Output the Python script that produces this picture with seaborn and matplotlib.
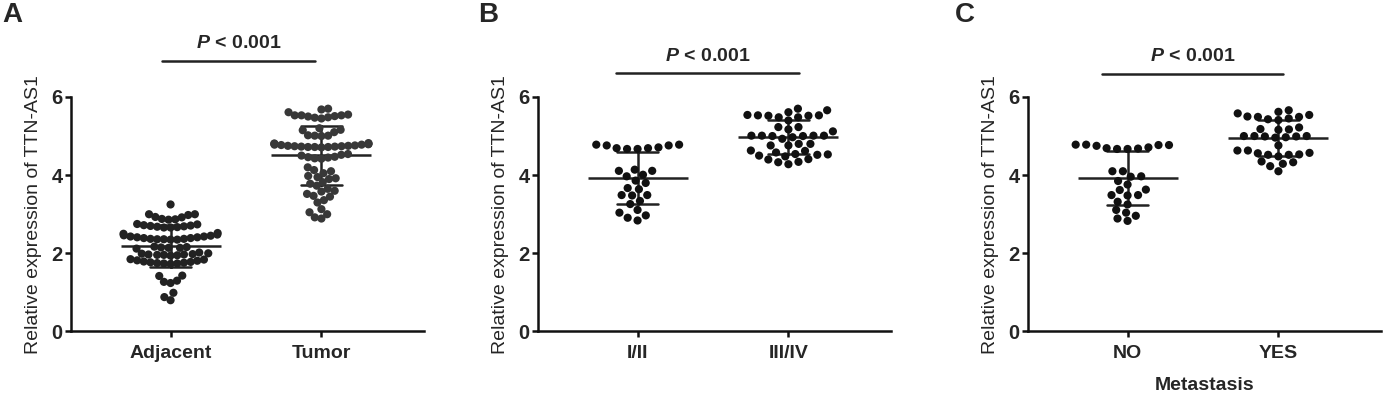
import numpy as np
import pandas as pd
import matplotlib
matplotlib.use('Agg')
import matplotlib.pyplot as plt
import seaborn as sns

# values
adjacent = [3.25,
            3.00, 2.98, 2.93, 2.88, 2.86, 2.87, 2.92, 3.00,
            2.75, 2.72, 2.70, 2.68, 2.66, 2.66, 2.67, 2.69, 2.71, 2.74,
            2.52, 2.48, 2.45, 2.43, 2.41, 2.39, 2.37, 2.36, 2.35, 2.35, 2.36, 2.37, 2.39, 2.41, 2.43, 2.46, 2.50,
            2.17, 2.14, 2.16, 2.15, 2.14, 2.12,
            2.00, 1.97, 1.95, 1.96, 1.98, 2.02, 1.99, 1.96, 1.94, 1.97,
            1.85, 1.82, 1.79, 1.77, 1.75, 1.74, 1.73, 1.74, 1.76, 1.78, 1.81, 1.84,
            1.43, 1.42,
            1.27, 1.24, 1.30,
            0.99, 0.88, 0.80]
tumor = [5.70, 5.68, 5.61, 5.55, 5.53, 5.53, 5.51, 5.50, 5.48, 5.47, 5.45, 5.53,
         5.20, 5.16, 5.15, 5.10, 5.02, 5.01, 5.01, 5.00,
         4.82, 4.80, 4.79, 4.78, 4.76, 4.75, 4.74, 4.73, 4.72, 4.72, 4.71, 4.72, 4.73, 4.74, 4.75, 4.77, 4.78, 4.80, 4.81,
         4.54, 4.50, 4.46, 4.45, 4.42, 4.43, 4.47, 4.52,
         4.20, 4.13, 4.10, 4.05, 3.98, 3.95, 3.92, 3.90,
         3.82, 3.78, 3.73, 3.65, 3.60, 3.58,
         3.52, 3.47, 3.45, 3.36, 3.30,
         3.13, 3.05, 3.00, 2.92, 2.89]
stage_1_2 = [4.78, 4.76, 4.71, 4.69, 4.67, 4.67, 4.69, 4.76, 4.78,
             4.11, 4.01, 3.97, 4.11, 4.14,
             3.80, 3.67, 3.64, 3.86,
             3.49, 3.34, 3.26, 3.49, 3.48,
             3.11, 2.97, 2.84, 2.91, 3.04]
stage_3_4 = [5.70, 5.61, 5.48, 5.54, 5.53, 5.52, 5.53, 5.52, 5.48, 5.66, 5.40,
             5.23, 5.23, 5.12, 5.17,
             5.01, 5.00, 5.01, 4.93, 4.97, 5.01, 5.00, 5.01,
             4.80, 4.80, 4.76, 4.76,
             4.54, 4.50, 4.58, 4.63, 4.52, 4.62, 4.48, 4.53,
             4.41, 4.34, 4.28, 4.33, 4.40]
meta_no = [4.78, 4.77, 4.71, 4.68, 4.67, 4.67, 4.69, 4.75, 4.77, 4.78,
           4.10, 3.96, 3.97, 3.85, 4.10,
           3.76, 3.62, 3.63,
           3.49, 3.32, 3.25, 3.49, 3.48,
           3.11, 2.96, 2.83, 2.89, 3.04]
meta_yes = [5.62, 5.54, 5.49, 5.43, 5.66, 5.58, 5.41, 5.45, 5.49, 5.50,
            5.22, 5.16, 5.17, 5.18,
            4.99, 5.00, 4.97, 5.00, 4.96, 5.00, 4.99,
            4.63, 4.56, 4.52, 4.76, 4.52, 4.53, 4.57, 4.63,
            4.35, 4.29, 4.48, 4.23, 4.33, 4.10]

panel_letters = ['A', 'B', 'C']
group_names = [['Adjacent', 'Tumor'], ['I/II', 'III/IV'], ['NO', 'YES']]
group_values = [[adjacent, tumor], [stage_1_2, stage_3_4], [meta_no, meta_yes]]
x_titles = ['', '', 'Metastasis']
y_title = 'Relative expression of TTN-AS1'
y_ticks = [0, 2, 4, 6]

# layout of the significance bars: (x start, x end, bar y, text y)
sig_bars = [(-0.06, 0.96, 6.93, 7.37),
            (-0.14, 1.07, 6.62, 7.03),
            (-0.17, 1.03, 6.59, 7.03)]

sns.set_style('ticks')
plt.rcParams['font.family'] = ['Liberation Sans', 'DejaVu Sans']
plt.rcParams['mathtext.fontset'] = 'custom'
plt.rcParams['mathtext.it'] = 'Liberation Sans:italic:bold'
plt.rcParams['mathtext.rm'] = 'Liberation Sans:bold'

fig = plt.figure(figsize=(13.86, 3.95), dpi=100)
lefts = [71, 538, 1028]
dot_colors = [['#222222', '#383838'], ['#111111', '#111111'], ['#111111', '#111111']]
# horizontal scaling of the swarm (A is crowded, B/C have small gaps between dots)
spread = [0.78, 1.22, 1.22]

for i in range(3):
    ax = fig.add_axes([lefts[i] / 1386, 0.1608, 353 / 1386, 0.5937])
    rows = []
    for name, vals in zip(group_names[i], group_values[i]):
        for v in vals:
            rows.append({'group': name, 'value': v})
    df = pd.DataFrame(rows)

    sns.swarmplot(data=df, x='group', y='value', hue='group', order=group_names[i],
                  palette=dot_colors[i], size=5.9, ax=ax, legend=False,
                  clip_on=False, warn_thresh=1)
    ax.set_xlim(-0.66, 1.68)
    ax.set_ylim(0, 6)
    fig.canvas.draw()
    # freeze the swarm layout, then rescale it around each group
    for coll in ax.collections:
        if 'draw' in coll.__dict__:
            del coll.draw
        off = np.array(coll.get_offsets())
        if len(off) == 0:
            continue
        centre = np.round(off[:, 0])
        off[:, 0] = centre + (off[:, 0] - centre) * spread[i]
        coll.set_offsets(off)

    sns.pointplot(data=df, x='group', y='value', order=group_names[i], estimator='mean',
                  errorbar='sd', color='#222222', marker='_', markersize=72,
                  markeredgewidth=1.8, linestyle='none', capsize=0.27,
                  err_kws={'linewidth': 1.8}, ax=ax)

    ax.set_xlim(-0.66, 1.68)
    ax.set_ylim(0, 6)
    ax.set_yticks(y_ticks)
    ax.set_yticklabels([str(t) for t in y_ticks])
    for sp in ['top', 'right']:
        ax.spines[sp].set_visible(False)
    for sp in ['left', 'bottom']:
        ax.spines[sp].set_linewidth(1.8)
        ax.spines[sp].set_color('#111111')
    ax.tick_params(axis='both', width=1.8, length=4.5, color='#111111')
    ax.tick_params(axis='y', pad=1.5)
    ax.tick_params(axis='x', pad=5)
    for lab in ax.get_xticklabels():
        lab.set_fontsize(14)
        lab.set_fontweight('bold')
    for lab in ax.get_yticklabels():
        lab.set_fontsize(14.5)
        lab.set_fontweight('bold')
    ax.set_ylabel(y_title, fontsize=14, labelpad=7)
    ax.set_xlabel(x_titles[i], fontsize=14, fontweight='bold', labelpad=11)

    x0, x1, yb, yt = sig_bars[i]
    ax.plot([x0, x1], [yb, yb], color='#222222', lw=1.8, clip_on=False)
    ax.text((x0 + x1) / 2, yt, r'$P$ < 0.001', ha='center', va='center',
            fontsize=14, fontweight='bold', clip_on=False)

    fig.text([2, 478, 955][i] / 1386, 1 - 15 / 395, panel_letters[i],
             fontsize=20, fontweight='bold', ha='left', va='center')

fig.savefig('out.png', dpi=100)
